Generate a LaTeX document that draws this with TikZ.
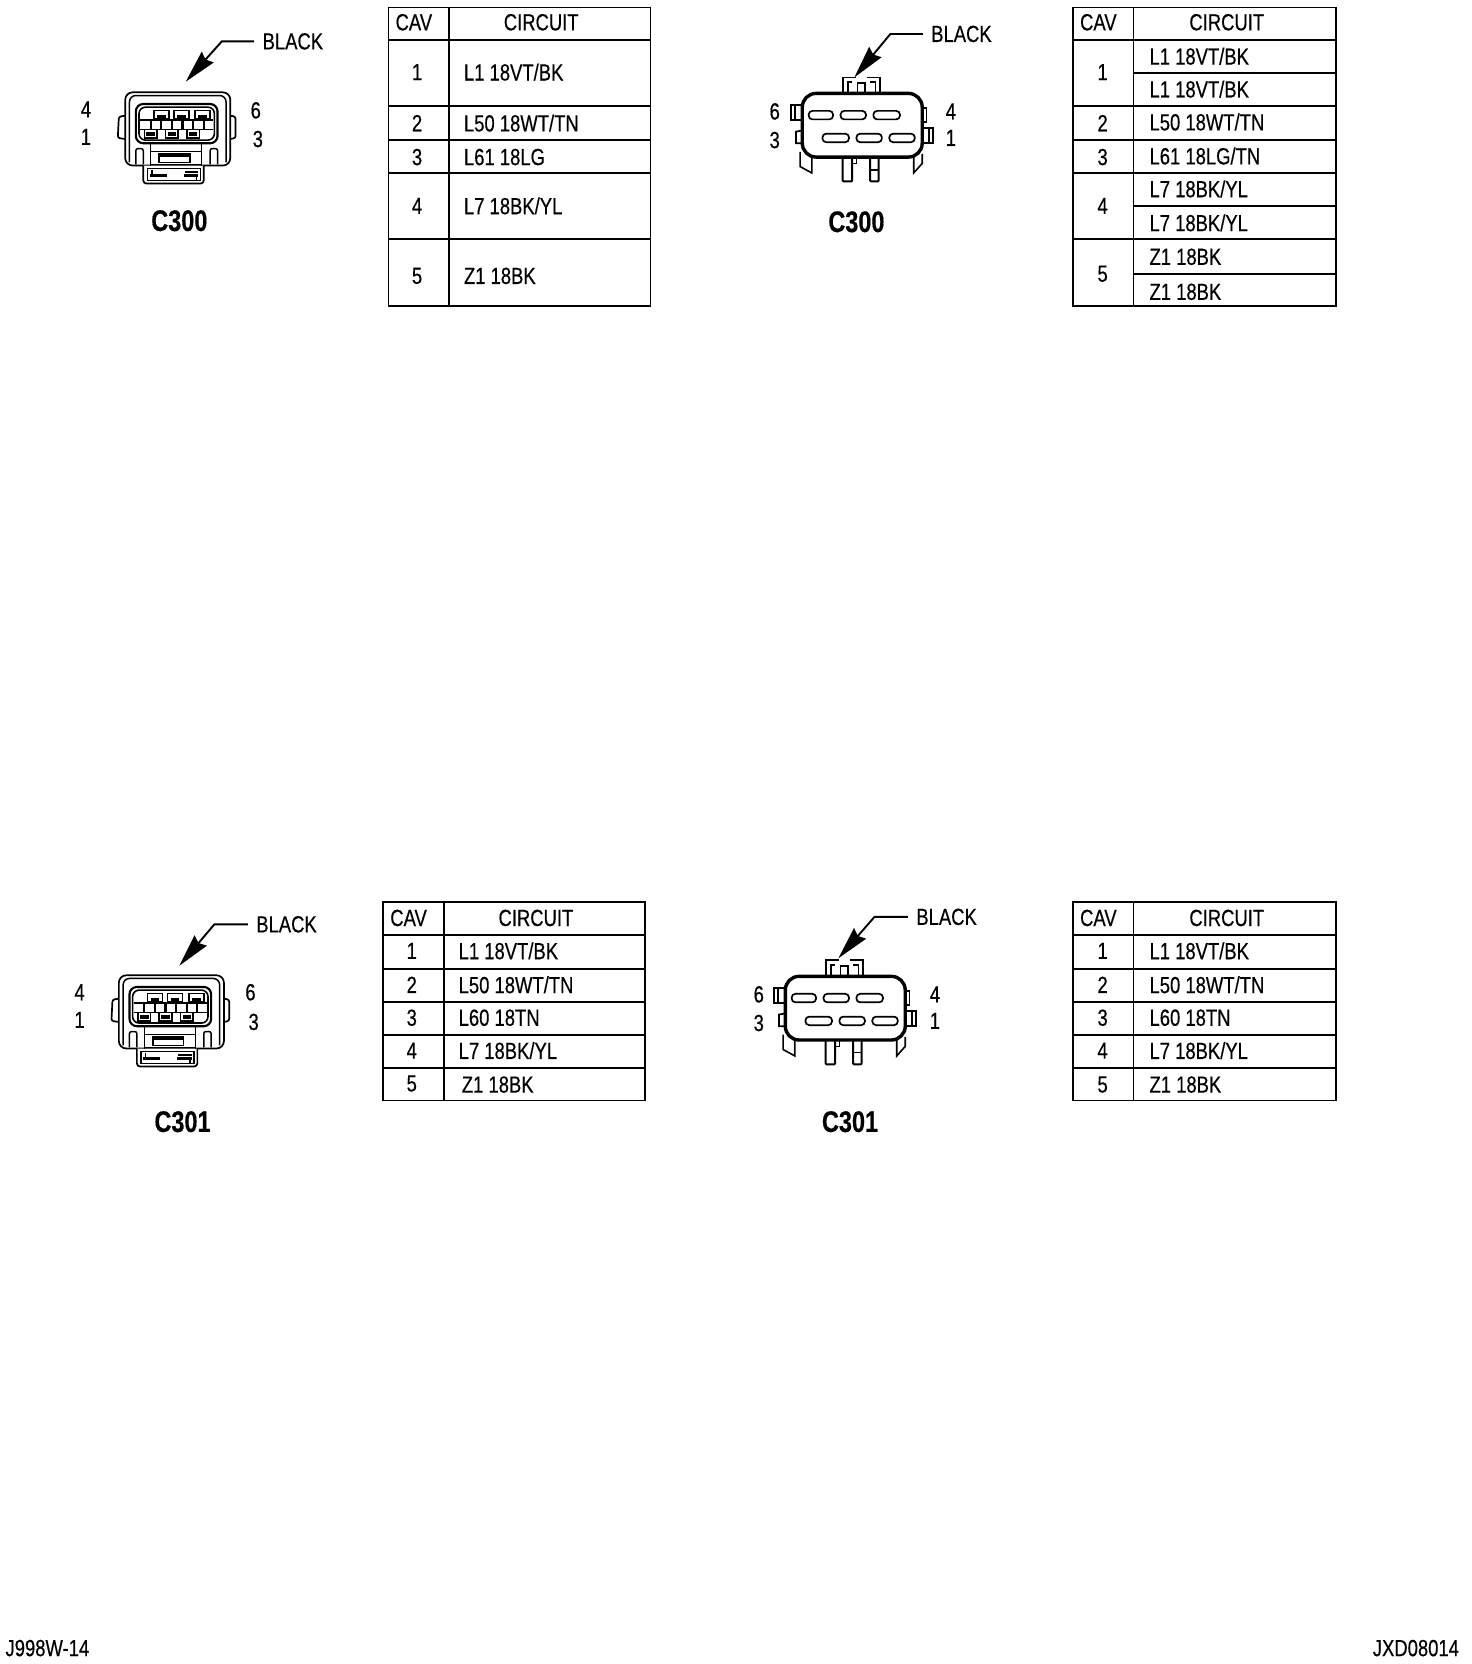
\documentclass[tikz,border=0pt]{standalone}
\usepackage{fontspec}
\setmainfont[FakeStretch=0.79,FakeBold=0.4]{Liberation Sans}
\usetikzlibrary{arrows.meta,positioning,calc}
\tikzset{
  tablerule/.style={line width=1.7pt},
  headtext/.style={font=\fontsize{22}{24}\selectfont,inner sep=0pt},
  wiretext/.style={font=\fontsize{22}{24}\selectfont,inner sep=0pt,anchor=west},
  pintext/.style={font=\fontsize{22}{24}\selectfont,inner sep=0pt},
  blacktext/.style={font=\fontsize{22}{24}\selectfont,inner sep=0pt,outer sep=8pt},
  conntext/.style={font=\bfseries\fontsize{28}{30}\selectfont,inner sep=0pt},
  leader/.style={line width=1.8pt,-{Stealth[length=31pt,width=15pt,inset=3pt]}},
  plugfront/.pic={
    % housing
    \draw[line width=1.6pt,rounded corners=7pt] (-49,27) -- (-49,-42) -- (50,-42) -- (50,27) -- cycle;
    \draw[line width=1.4pt,rounded corners=6pt] (-45,24) -- (-45,-39) -- (46,-39) -- (46,24);
    \draw[line width=1.6pt,rounded corners=2pt] (-49,-20) -- (-55,-19) -- (-56,1) -- (-49,2);
    \draw[line width=1.6pt,rounded corners=2pt] (50,-20) -- (55,-19) -- (55,1) -- (50,2);
    \draw[line width=1.6pt,fill=white,rounded corners=3pt] (-32,27) -- (-32,44) -- (25,44) -- (25,27);
    % cavity
    \draw[line width=2pt,rounded corners=7pt] (-39,-31) rectangle (38,6);
    \draw[line width=1.5pt,rounded corners=6pt] (-36,-28) rectangle (35,3);
    \foreach \t in {-15,4,24} {
      \draw[line width=1.5pt] (\t-7,-25) rectangle (\t+7,-17);
      \fill (\t-4,-21) rectangle (\t+4,-17);
    }
    \draw[line width=1.5pt] (-35,-16) -- (34,-16);
    \draw[line width=1.5pt] (-35,-7) -- (34,-7);
    \foreach \t in {-25,-15,-5,5,15,25} \draw[line width=2pt] (\t,-16) -- (\t,-7);
    \foreach \t in {-25,-5,15} {
      \draw[line width=1.5pt] (\t-6,-7) rectangle (\t+6,1);
      \fill (\t-4,-5) rectangle (\t+4,-1);
    }
    % latch
    \draw[line width=1.4pt] (-25,6) -- (-25,27);
    \draw[line width=1.4pt] (23,6) -- (23,27);
    \draw[line width=1.4pt] (-25,14) -- (23,14);
    \fill (-17,15) rectangle (12,19);
    \draw[line width=1.4pt] (-17,15) -- (-17,24) -- (12,24) -- (12,15);
    \draw[line width=1.4pt] (-25,26) -- (23,26);
    \draw[line width=1.4pt,rounded corners=2pt] (-39,26) -- (-39,11) -- (-32,11) -- (-32,26);
    \draw[line width=1.4pt,rounded corners=2pt] (31,26) -- (31,11) -- (38,11) -- (38,26);
    % tab
    \draw[line width=1.4pt] (-28,30) rectangle (22,41);
    \fill (-26,35) rectangle (-10,38);
    \fill (6,35) rectangle (20,38);
    \draw[line width=1.4pt] (-24,31) -- (-24,36) (7,33) -- (20,33) (18,36) -- (18,41);
  },
  plugrear/.pic={
    % pins and fins
    \draw[line width=1.5pt] (-58,25) -- (-58,39) -- (-47,45) -- (-47,30);
    \draw[line width=1.5pt] (49,30) -- (49,45) -- (57,36) -- (57,27);
    \draw[line width=1.9pt,rounded corners=1pt] (-18,30) -- (-18,53) -- (-9,53) -- (-9,30);
    \draw[line width=1.9pt,rounded corners=1pt] (8,30) -- (8,53) -- (16,53) -- (16,30);
    \draw[line width=1.4pt] (-9,36) -- (-5,36) -- (-5,30) (8,42) -- (16,42);
    % key on top
    \draw[line width=1.8pt] (-18,-31) -- (-18,-45) -- (-5,-45) (5,-45) -- (17,-45) -- (17,-31);
    \draw[line width=1.8pt] (-13,-31) -- (-13,-41) -- (-9,-41) (-4,-31) -- (-4,-40) -- (3,-40) -- (3,-31) (8,-41) -- (13,-41) -- (13,-31);
    % side tabs
    \draw[line width=1.8pt] (-56,-19) -- (-67,-19) -- (-67,-5) -- (-56,-5) (-63,-19) -- (-63,-5);
    \draw[line width=1.6pt] (-56,5) -- (-62,6) -- (-62,17) -- (-56,17);
    \draw[line width=1.6pt] (57,-16) -- (61,-16) -- (61,-3) -- (57,-3);
    \draw[line width=1.8pt] (57,3) -- (67,3) -- (67,17) -- (57,17) (63,3) -- (63,17);
    % shell
    \draw[line width=3.2pt,rounded corners=13pt,fill=white] (-56,-30) rectangle (57,30);
    \foreach \a/\b in {-50/-27,-20/4,11/36} \draw[line width=1.6pt,rounded corners=3.5pt] (\a,-13.5) rectangle (\b,-5.5);
    \foreach \a/\b in {-37/-12,-5/19,26/50} \draw[line width=1.6pt,rounded corners=3.5pt] (\a,8) rectangle (\b,16);
  }
}
\begin{document}
\begin{tikzpicture}[x=1pt,y=-1pt]
  \useasboundingbox (0,0) rectangle (1387,1568);

  % upper left connector
  \pic (plugA) at (167,129) {plugfront};
  \node[pintext] (pinA4) at (81,103) {4};
  \node[pintext] (pinA1) at (81,129) {1};
  \node[pintext] (pinA6) at (241,104) {6};
  \node[pintext] (pinA3) at (243,131) {3};
  \node[conntext] (nameA) at (169,208) {C300};
  \node[blacktext] (blackA) at (276,39) {BLACK};
  \coordinate (bendA) at (209,39);
  \coordinate (tipA) at (175,77);
  \draw[leader] (blackA.west) -- (bendA) -- (tipA);

  % upper left table
  \draw[tablerule] (366,7) rectangle (613,288);
  \draw[tablerule] (423,7) -- (423,288);
  \foreach \y in {38,100,132,163,225} \draw[tablerule] (366,\y) -- (613,\y);
  \node[headtext] (cavA) at (390,21) {CAV};
  \node[headtext] (circuitA) at (510,21) {CIRCUIT};
  \foreach \c/\y/\w in {1/68/{L1 18VT/BK},2/116/{L50 18WT/TN},3/148/{L61 18LG},4/194/{L7 18BK/YL},5/260/{Z1 18BK}} {
    \node[pintext] (cavA\c) at (393,\y) {\c};
    \node[wiretext] (wireA\c) at (437,\y) {\w};
  }

  % upper right connector
  \pic (plugB) at (812,118) {plugrear};
  \node[pintext] (pinB6) at (730,105) {6};
  \node[pintext] (pinB3) at (730,132) {3};
  \node[pintext] (pinB4) at (896,105) {4};
  \node[pintext] (pinB1) at (896,130) {1};
  \node[conntext] (nameB) at (807,209) {C300};
  \node[blacktext] (blackB) at (906,32) {BLACK};
  \coordinate (bendB) at (839,32);
  \coordinate (tipB) at (805,73);
  \draw[leader] (blackB.west) -- (bendB) -- (tipB);

  % upper right table
  \draw[tablerule] (1011,7) rectangle (1259,288);
  \draw[tablerule] (1068,7) -- (1068,288);
  \draw[tablerule] (1011,38) -- (1259,38);
  \foreach \y in {100,132,163,225} \draw[tablerule] (1011,\y) -- (1259,\y);
  \foreach \y in {69,194,258} \draw[tablerule] (1068,\y) -- (1259,\y);
  \node[headtext] (cavB) at (1035,21) {CAV};
  \node[headtext] (circuitB) at (1156,21) {CIRCUIT};
  \foreach \c/\y in {1/68,2/116,3/148,4/194,5/258} \node[pintext] (cavB\c) at (1039,\y) {\c};
  \foreach \n/\y/\w in {a/53/{L1 18VT/BK},b/84/{L1 18VT/BK},c/115/{L50 18WT/TN},d/147/{L61 18LG/TN},e/178/{L7 18BK/YL},f/210/{L7 18BK/YL},g/242/{Z1 18BK},h/275/{Z1 18BK}}
    \node[wiretext] (wireB\n) at (1083,\y) {\w};

  % lower left connector
  \pic (plugC) at (161,961) {plugfront};
  \node[pintext] (pinC4) at (75,935) {4};
  \node[pintext] (pinC1) at (75,961) {1};
  \node[pintext] (pinC6) at (236,935) {6};
  \node[pintext] (pinC3) at (239,963) {3};
  \node[conntext] (nameC) at (172,1057) {C301};
  \node[blacktext] (blackC) at (270,871) {BLACK};
  \coordinate (bendC) at (202,871);
  \coordinate (tipC) at (169,910);
  \draw[leader] (blackC.west) -- (bendC) -- (tipC);

  % lower left table
  \draw[tablerule] (361,850) rectangle (608,1037);
  \draw[tablerule] (418,850) -- (418,1037);
  \foreach \y in {881,913,944,975,1006} \draw[tablerule] (361,\y) -- (608,\y);
  \node[headtext] (cavC) at (385,865) {CAV};
  \node[headtext] (circuitC) at (505,865) {CIRCUIT};
  \foreach \c/\y/\w in {1/896/{L1 18VT/BK},2/928/{L50 18WT/TN},3/959/{L60 18TN},4/990/{L7 18BK/YL}} {
    \node[pintext] (cavC\c) at (388,\y) {\c};
    \node[wiretext] (wireC\c) at (432,\y) {\w};
  }
  \node[pintext] (cavC5) at (388,1021) {5};
  \node[wiretext] (wireC5) at (435,1022) {Z1 18BK};

  % lower right connector
  \pic (plugD) at (796,950) {plugrear};
  \node[pintext] (pinD6) at (715,937) {6};
  \node[pintext] (pinD3) at (715,964) {3};
  \node[pintext] (pinD4) at (881,937) {4};
  \node[pintext] (pinD1) at (881,962) {1};
  \node[conntext] (nameD) at (801,1057) {C301};
  \node[blacktext] (blackD) at (892,864) {BLACK};
  \coordinate (bendD) at (824,864);
  \coordinate (tipD) at (790,903);
  \draw[leader] (blackD.west) -- (bendD) -- (tipD);

  % lower right table
  \draw[tablerule] (1011,850) rectangle (1259,1037);
  \draw[tablerule] (1068,850) -- (1068,1037);
  \foreach \y in {881,913,944,975,1006} \draw[tablerule] (1011,\y) -- (1259,\y);
  \node[headtext] (cavD) at (1035,865) {CAV};
  \node[headtext] (circuitD) at (1156,865) {CIRCUIT};
  \foreach \c/\y/\w in {1/896/{L1 18VT/BK},2/928/{L50 18WT/TN},3/959/{L60 18TN},4/990/{L7 18BK/YL},5/1022/{Z1 18BK}} {
    \node[pintext] (cavD\c) at (1039,\y) {\c};
    \node[wiretext] (wireD\c) at (1083,\y) {\w};
  }

  % drawing numbers
  \node[wiretext] (jobL) at (5,1553) {J998W-14};
  \node[pintext,anchor=east] (jobR) at (1375,1553) {JXD08014};
\end{tikzpicture}
\end{document}
